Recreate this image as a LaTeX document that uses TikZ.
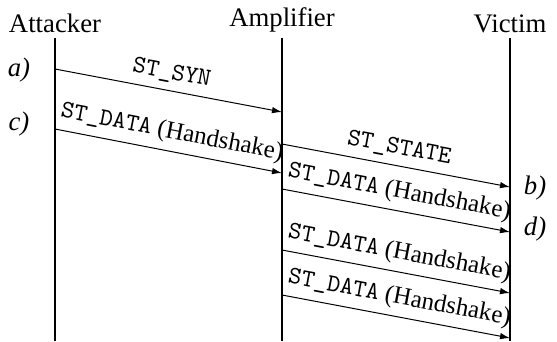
\documentclass[tikz,border=0pt]{standalone}
\usepackage{fontspec}
\setmainfont{Liberation Serif}
\usetikzlibrary{arrows.meta}
\begin{document}
\begin{tikzpicture}[x=0.4pt,y=-0.4pt,
  lifeline/.style={line width=0.8pt},
  msg/.style={line width=0.4pt,-{Latex[length=4pt,width=2.6pt]}},
  msglabel/.style={above,sloped,midway,inner sep=2.8pt,font=\fontsize{10}{12}\selectfont},
  actor/.style={anchor=south,inner sep=2pt,font=\fontsize{10.7}{13}\selectfont},
  step label/.style={font=\fontsize{10.7}{13}\selectfont\itshape}]
\useasboundingbox (0,0) rectangle (557,341);
% lifelines
\coordinate (atop) at (55,38);
\coordinate (abot) at (55,341);
\coordinate (mtop) at (282,38);
\coordinate (mbot) at (282,341);
\coordinate (vtop) at (510,38);
\coordinate (vbot) at (510,341);
\draw[lifeline] (atop) -- (abot);
\draw[lifeline] (mtop) -- (mbot);
\draw[lifeline] (vtop) -- (vbot);
\node[actor] (attacker) at (atop) {Attacker};
\node[actor] (amplifier) at (mtop) {Amplifier};
\node[actor] (victim) at (vtop) {Victim};
% message endpoints
\coordinate (s1) at (55,69);   \coordinate (e1) at (282,112);
\coordinate (s2) at (55,129);  \coordinate (e2) at (282,173);
\coordinate (s3) at (282,144); \coordinate (e3) at (510,187);
\coordinate (s4) at (282,189); \coordinate (e4) at (510,232);
\coordinate (s5) at (282,250); \coordinate (e5) at (510,293);
\coordinate (s6) at (282,295); \coordinate (e6) at (510,338);
\draw[msg] (s1) -- node[msglabel] {\texttt{ST\_SYN}} (e1);
\draw[msg] (s2) -- node[msglabel] {\texttt{ST\_DATA} (Handshake)} (e2);
\draw[msg] (s3) -- node[msglabel] {\texttt{ST\_STATE}} (e3);
\draw[msg] (s4) -- node[msglabel] {\texttt{ST\_DATA} (Handshake)} (e4);
\draw[msg] (s5) -- node[msglabel] {\texttt{ST\_DATA} (Handshake)} (e5);
\draw[msg] (s6) -- node[msglabel] {\texttt{ST\_DATA} (Handshake)} (e6);
% step labels
\node[step label] (la) at (19,70) {a)};
\node[step label] (lc) at (19,124) {c)};
\node[step label] (lb) at (535,188) {b)};
\node[step label] (ld) at (535,229) {d)};
\end{tikzpicture}
\end{document}
